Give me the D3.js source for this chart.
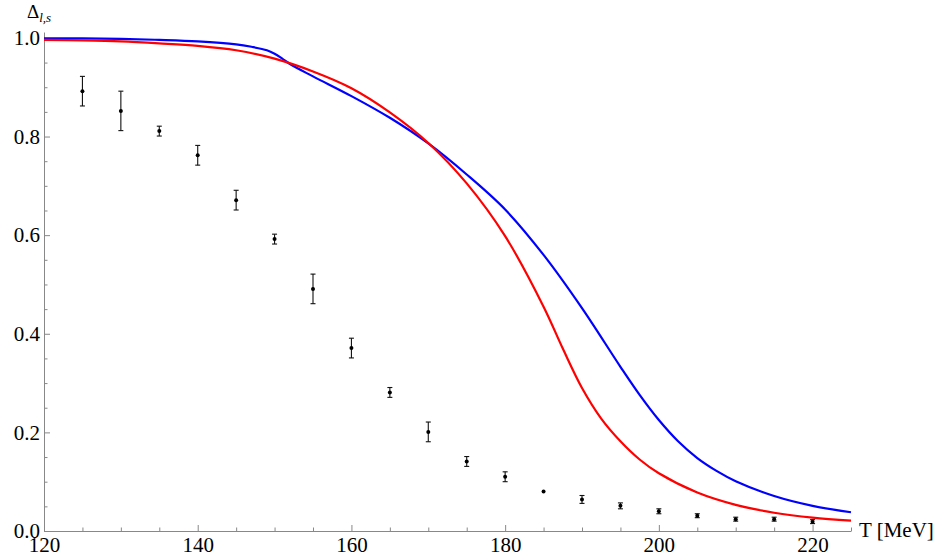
<!DOCTYPE html>
<html>
<head>
<meta charset="utf-8">
<script src="https://cdn.jsdelivr.net/npm/d3@7"></script>
<style>
  body { margin: 0; background: #fff; }
  text { font-family: "Liberation Serif", "Times New Roman", serif; }
</style>
</head>
<body>
<div id="chart"></div>
<script>
// curves
var blueT    = [120, 125, 130, 135, 140, 145, 147, 149, 150, 151, 152, 155, 160, 165, 170, 175, 180, 185, 190, 195, 197.5, 200, 202.5, 205, 207.5, 210, 215, 220, 225];
var blueVals = [0.999, 0.999, 0.998, 0.996, 0.993, 0.987, 0.982, 0.975, 0.968, 0.958, 0.947, 0.922, 0.882, 0.838, 0.786, 0.723, 0.652, 0.560, 0.452, 0.333, 0.276, 0.225, 0.182, 0.148, 0.122, 0.101, 0.071, 0.051, 0.038];
var redT     = [120, 125, 130, 135, 140, 145, 150, 155, 160, 165, 170, 175, 180, 185, 187.5, 190, 192.5, 195, 197.5, 200, 205, 210, 215, 220, 225];
var redVals  = [0.996, 0.995, 0.993, 0.989, 0.984, 0.975, 0.958, 0.932, 0.898, 0.849, 0.787, 0.705, 0.598, 0.455, 0.370, 0.290, 0.228, 0.182, 0.145, 0.117, 0.078, 0.053, 0.037, 0.027, 0.021];

// lattice points with error bars
var dataT   = [125, 130, 135, 140, 145, 150, 155, 160, 165, 170, 175, 180, 185, 190, 195, 200, 205, 210, 215, 220];
var dataVal = [0.892, 0.852, 0.811, 0.762, 0.671, 0.592, 0.491, 0.371, 0.281, 0.201, 0.141, 0.110, 0.080, 0.064, 0.051, 0.040, 0.031, 0.024, 0.024, 0.019];
var dataErr = [0.03, 0.04, 0.01, 0.02, 0.02, 0.01, 0.03, 0.02, 0.01, 0.02, 0.01, 0.01, 0.0, 0.008, 0.006, 0.005, 0.004, 0.004, 0.004, 0.004];

var xMajor = [120, 140, 160, 180, 200, 220];
var yMajor = [0, 0.2, 0.4, 0.6, 0.8, 1.0];

var W = 952, H = 557;
var svg = d3.select("#chart").append("svg")
    .attr("width", W)
    .attr("height", H);

var x = d3.scaleLinear().domain([120, 225]).range([44, 851]);
var y = d3.scaleLinear().domain([0, 1.012]).range([531, 32]);

var axisColor = "#888";

// minor ticks first
var xMinor = d3.range(120, 226, 5).filter(function(t) { return xMajor.indexOf(t) < 0; });
var yMinor = d3.range(0, 1.01, 0.05).filter(function(v) { return Math.round(v * 100) % 20 != 0; });

svg.append("g")
    .attr("transform", "translate(0," + y(0) + ")")
    .call(d3.axisBottom(x).tickValues(xMinor).tickSize(-3.5).tickFormat(""))
    .call(function(g) { g.select(".domain").remove(); });

svg.append("g")
    .attr("transform", "translate(" + x(120) + ",0)")
    .call(d3.axisLeft(y).tickValues(yMinor).tickSize(-3.5).tickFormat(""))
    .call(function(g) { g.select(".domain").remove(); });

svg.append("g")
    .attr("transform", "translate(0," + y(0) + ")")
    .call(d3.axisBottom(x).tickValues(xMajor).tickSize(-6).tickSizeOuter(0).tickPadding(6).tickFormat(d3.format("d")));

svg.append("g")
    .attr("transform", "translate(" + x(120) + ",0)")
    .call(d3.axisLeft(y).tickValues(yMajor).tickSize(-6).tickSizeOuter(0).tickPadding(4).tickFormat(d3.format(".1f")));

svg.selectAll(".tick line").attr("stroke", axisColor);
svg.selectAll(".domain").attr("stroke", axisColor);
svg.selectAll(".tick text")
    .attr("font-size", 21)
    .attr("fill", "#000")
    .style("font-family", "'Liberation Serif', 'Times New Roman', serif");

// curves
var line = d3.line()
    .x(function(d) { return x(d[0]); })
    .y(function(d) { return y(d[1]); })
    .curve(d3.curveCatmullRom.alpha(0.5));

svg.append("path")
    .datum(d3.zip(blueT, blueVals))
    .attr("d", line)
    .attr("fill", "none")
    .attr("stroke", "#0000ff")
    .attr("stroke-width", 2.2);

svg.append("path")
    .datum(d3.zip(redT, redVals))
    .attr("d", line)
    .attr("fill", "none")
    .attr("stroke", "#ff0000")
    .attr("stroke-width", 2.2);

// data points
var pts = dataT.map(function(t, i) { return { t: t, v: dataVal[i], e: dataErr[i] }; });
var pg = svg.append("g").attr("stroke", "#111").attr("stroke-width", 1.1);

pts.filter(function(d) { return d.e > 0; }).forEach(function(d) {
    var cx = x(d.t);
    pg.append("line").attr("x1", cx).attr("x2", cx).attr("y1", y(d.v - d.e)).attr("y2", y(d.v + d.e));
    pg.append("line").attr("x1", cx - 2.5).attr("x2", cx + 2.5).attr("y1", y(d.v - d.e)).attr("y2", y(d.v - d.e));
    pg.append("line").attr("x1", cx - 2.5).attr("x2", cx + 2.5).attr("y1", y(d.v + d.e)).attr("y2", y(d.v + d.e));
});

svg.append("g").selectAll("circle")
    .data(pts)
    .enter()
    .append("circle")
    .attr("cx", function(d) { return x(d.t); })
    .attr("cy", function(d) { return y(d.v); })
    .attr("r", 2)
    .attr("fill", "#000");

// axis titles
var yl = svg.append("text")
    .attr("x", 27)
    .attr("y", 18)
    .attr("font-size", 19);
yl.append("tspan").text("Δ");
yl.append("tspan").attr("font-size", 13).attr("font-style", "italic").attr("dy", 4).text("l,s");

svg.append("text")
    .attr("x", 859)
    .attr("y", 537)
    .attr("font-size", 21)
    .text("T [MeV]");
</script>
</body>
</html>
